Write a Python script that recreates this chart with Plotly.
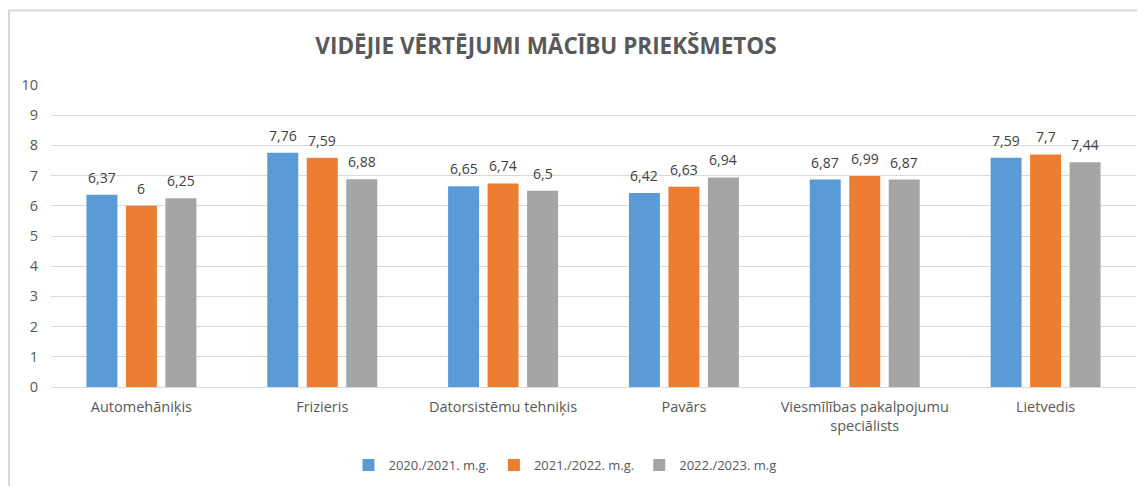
import plotly.graph_objects as go

categories = ["Automehāniķis", "Frizieris", "Datorsistēmu tehniķis", "Pavārs",
              "Viesmīlības pakalpojumu<br>speciālists", "Lietvedis"]
series_names = ["2020./2021. m.g.", "2021./2022. m.g.", "2022./2023. m.g"]
vals_2021 = [6.37, 7.76, 6.65, 6.42, 6.87, 7.59]
vals_2022 = [6.00, 7.59, 6.74, 6.63, 6.99, 7.70]
vals_2023 = [6.25, 6.88, 6.50, 6.94, 6.87, 7.44]
colors = ["#5B9BD5", "#ED7D31", "#A5A5A5"]
y_ticks = list(range(0, 11))

W, H = 1145, 486
ML, MR, MT, MB = 43, 17, 77, 107
pw, ph = W - ML - MR, H - MT - MB
BARGAP = 0.345

def fmt(v):
    s = ("%.2f" % v).rstrip("0").rstrip(".")
    return s.replace(".", ",")

all_vals = [vals_2021, vals_2022, vals_2023]
fig = go.Figure()
for name, vals, col in zip(series_names, all_vals, colors):
    fig.add_trace(go.Bar(
        x=categories, y=vals, name=name, marker_color=col,
        marker_line_width=0, hoverinfo="x+y+name",
    ))

# value labels above bars, offset to each bar of the group
slot = pw / len(categories)
pitch = slot * (1 - BARGAP) / len(series_names)
annotations = []
for i, vals in enumerate(all_vals):
    for c, v in zip(categories, vals):
        annotations.append(dict(
            x=c, y=v, xref="x", yref="y", text=fmt(v), showarrow=False,
            xanchor="center", yanchor="bottom",
            xshift=(i - 1) * pitch, yshift=6,
            font=dict(family="Open Sans", size=14, color="#404040"),
        ))

def px_x(p):
    return (p - ML) / pw

def px_y(p):
    return (H - MB - p) / ph

fig.update_layout(
    width=W, height=H,
    margin=dict(l=ML, r=MR, t=MT, b=MB, autoexpand=False),
    paper_bgcolor="white", plot_bgcolor="white",
    barmode="group", bargap=BARGAP, bargroupgap=0.215,
    font=dict(family="Open Sans", size=13, color="#595959"),
    title=dict(text="<b>VIDĒJIE VĒRTĒJUMI MĀCĪBU PRIEKŠMETOS</b>",
               x=538 / W, xanchor="center", y=1 - 38 / H, yanchor="middle",
               font=dict(family="Open Sans", size=22.5, color="#595959")),
    showlegend=True,
    legend=dict(orientation="h", x=px_x(557), xanchor="center", y=px_y(457), yanchor="middle",
                font=dict(family="Open Sans", size=13, color="#595959"),
                itemwidth=30, traceorder="normal"),
    xaxis=dict(showgrid=False, showline=True, linecolor="#D9D9D9", linewidth=1,
               ticks="", automargin=False, ticklabelstandoff=7,
               tickfont=dict(size=14.5, color="#595959")),
    yaxis=dict(range=[0, 10], tickvals=y_ticks, showgrid=True, gridcolor="#D9D9D9",
               gridwidth=1, zeroline=False, showline=False, ticks="", automargin=False,
               ticklabelstandoff=12, tickfont=dict(size=14.5, color="#595959")),
    annotations=annotations,
    shapes=[dict(type="rect", xref="paper", yref="paper",
                 x0=px_x(1), x1=px_x(1170), y0=px_y(520), y1=px_y(2.5),
                 line=dict(color="#D9D9D9", width=2), fillcolor="rgba(0,0,0,0)",
                 layer="below")],
)

fig.write_html("out.html")
